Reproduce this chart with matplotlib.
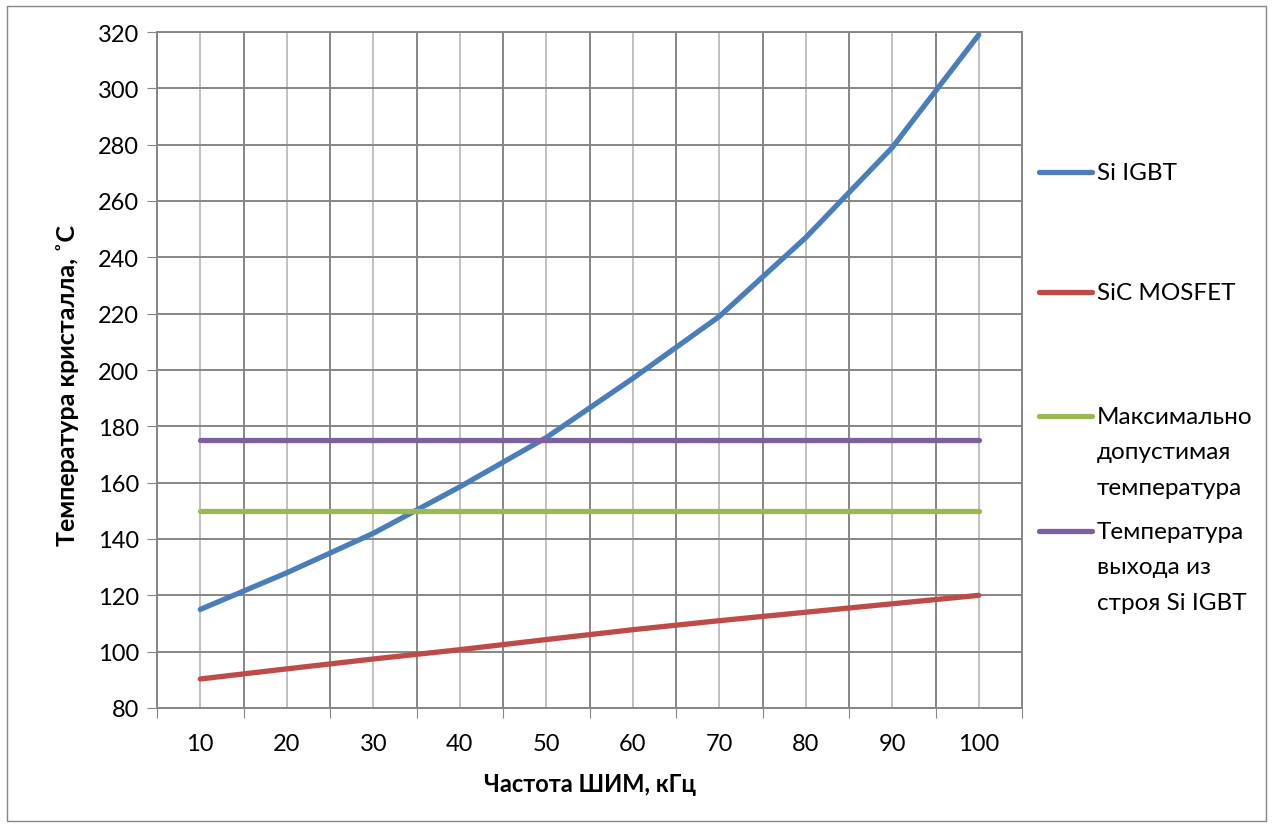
import numpy as np
import matplotlib.pyplot as plt
from matplotlib.lines import Line2D
from matplotlib.patches import Rectangle

plt.rcParams['font.family'] = ['Lato', 'DejaVu Sans']

# Data
freq_khz = [10, 20, 30, 40, 50, 60, 70, 80, 90, 100]
si_igbt = [115, 128, 142, 158.5, 176, 197, 219, 247, 279, 319]
sic_mosfet = [90.3, 93.9, 97.4, 100.7, 104.3, 107.8, 111, 114, 117, 120]
t_max = [150] * 10
t_fail = [175] * 10

series_labels = ['Si IGBT', 'SiC MOSFET',
                 'Максимально\nдопустимая\nтемпература',
                 'Температура\nвыхода из\nстроя Si IGBT']
colors = ['#4a7ebb', '#be4b48', '#98b954', '#7d60a0']

W, H = 1273, 829
fig = plt.figure(figsize=(W / 100, H / 100), dpi=100)
fig.add_artist(Rectangle((7 / W, 7 / H), 1 - 14 / W, 1 - 14 / H,
                         transform=fig.transFigure, fill=False,
                         edgecolor='#868686', linewidth=1))

ax = fig.add_axes([157 / W, 1 - 709 / H, (1022 - 157) / W, (709 - 33) / H])

x = np.arange(len(freq_khz))
series = [si_igbt, sic_mosfet, t_max, t_fail]
for ys, c in zip(series, colors):
    ax.plot(x, ys, color=c, linewidth=3.8, solid_capstyle='round', zorder=3)

ax.set_xlim(-0.5, len(freq_khz) - 0.5)
ax.set_ylim(80, 320)
ax.set_yticks(np.arange(80, 321, 20))

# boundaries as major ticks, categories as minor ticks with labels
ax.set_xticks(np.arange(-0.5, len(freq_khz), 1.0))
ax.set_xticklabels([])
ax.set_xticks(x, minor=True)
ax.set_xticklabels([str(f) for f in freq_khz], minor=True)
ax.tick_params(axis='x', which='major', length=7, color='#868686', direction='out')
ax.tick_params(axis='x', which='minor', length=0, pad=18, labelsize=17)
ax.tick_params(axis='y', length=7, color='#868686', labelsize=17, pad=6)

ax.grid(True, which='major', color='#868686', linewidth=1.4, zorder=0)
ax.grid(True, which='minor', axis='x', color='#c0c0c0', linewidth=1.4, zorder=0)
ax.set_axisbelow(True)
for s in ax.spines.values():
    s.set_color('#868686')
    s.set_linewidth(1.4)

fig.text(590 / W, 1 - 785 / H, 'Частота ШИМ, кГц', ha='center', va='center',
         fontsize=17, fontweight='bold')
fig.text(68 / W, 1 - 386 / H, 'Температура кристалла, ˚С', ha='center', va='center',
         rotation=90, fontsize=18, fontweight='bold')

# legend drawn by hand to mimic the spacing
legend_y = [173, 293, 417, 532]
for lbl, c, yy in zip(series_labels, colors, legend_y):
    fy = 1 - yy / H
    fig.add_artist(Line2D([1039 / W, 1092 / W], [fy, fy], color=c, linewidth=3.8,
                          solid_capstyle='round', transform=fig.transFigure))
    fig.text(1097 / W, fy + 10 / H, lbl, ha='left', va='top', fontsize=17.5,
             linespacing=1.85)

fig.savefig('out.png', dpi=100)
